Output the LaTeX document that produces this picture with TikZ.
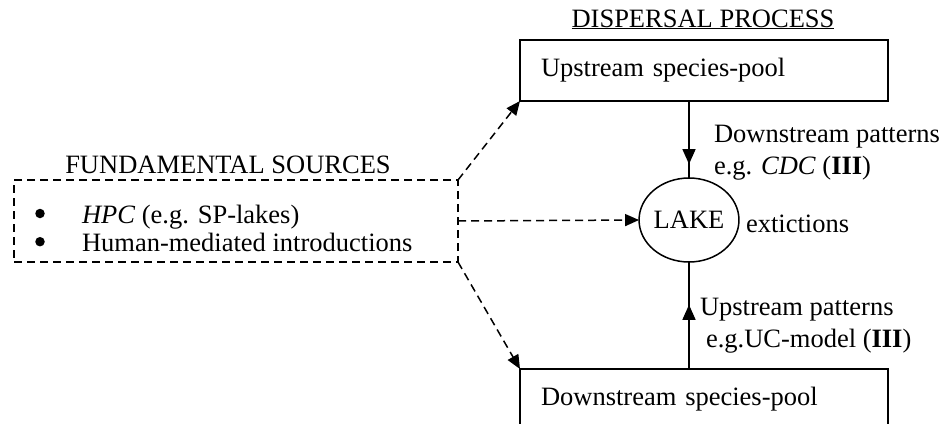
\documentclass[tikz,border=0pt]{standalone}
\usepackage{fontspec}
\setmainfont{Liberation Serif}
\usetikzlibrary{arrows.meta,shapes.geometric,decorations.markings}
\tikzset{
  every node/.style={font=\fontsize{26.5}{32}\selectfont, inner sep=0pt, outer sep=0pt},
  txt/.style={anchor=base west},
  pool/.style={draw, line width=2.3pt, minimum width=368pt, minimum height=61pt,
               text width=326pt, align=left, inner xsep=21pt},
  srcbox/.style={draw, line width=1.5pt, dash pattern=on 8pt off 5pt,
               minimum width=444pt, minimum height=82pt},
  lakenode/.style={draw, ellipse, line width=1.5pt, minimum width=96pt, minimum height=84pt},
  bulletdot/.style={circle, fill=black, minimum size=9.5pt},
  dasharrow/.style={line width=1.5pt, dash pattern=on 8pt off 5pt,
               -{Triangle[length=14pt,width=12pt]}},
  solidline/.style={line width=1.5pt},
  midtip/.style={postaction={decorate}, decoration={markings,
               mark=at position #1 with {\arrow{Triangle[length=15pt,width=13pt]}}}}
}
\begin{document}
\begin{tikzpicture}[x=1pt,y=-1pt]
\useasboundingbox[fill=white] (0,0) rectangle (949,423);
% title labels
\node[anchor=base] (title) at (703,27) {\underline{DISPERSAL PROCESS}};
\node[anchor=base] (fund) at (228,173) {FUNDAMENTAL SOURCES};
% boxes
\node[srcbox] (src) at (236,221) {};
\node[pool] (up) at (704,70.5) {Upstream species-pool};
\node[pool] (down) at (704,399.5) {Downstream species-pool};
\node[lakenode] (lake) at (689,220) {LAKE};
% list items
\node[bulletdot] (b1) at (40,213.5) {};
\node[txt] (i1) at (82,223) {\textit{HPC} (e.g. SP-lakes)};
\node[bulletdot] (b2) at (40,241.7) {};
\node[txt] (i2) at (82,251) {Human-mediated introductions};
% side labels
\node[txt] (dp1) at (714,142) {Downstream patterns};
\node[txt] (dp2) at (714,174) {e.g. \textit{CDC} (\textbf{III})};
\node[txt] (ext) at (746,232) {extictions};
\node[txt] (up1) at (700,315) {Upstream patterns};
\node[txt] (up2) at (706,347) {e.g.UC-model (\textbf{III})};
% connectors
\draw[dasharrow] (src.north east) -- (up.south west);
\draw[dasharrow] (src.east) -- (lake.west);
\draw[dasharrow] (src.south east) -- (down.north west);
\draw[solidline, midtip=0.82] (lake.north |- up.south) -- (lake.north);
\draw[solidline, midtip=0.6] (lake.south |- down.north) -- (lake.south);
\end{tikzpicture}
\end{document}
